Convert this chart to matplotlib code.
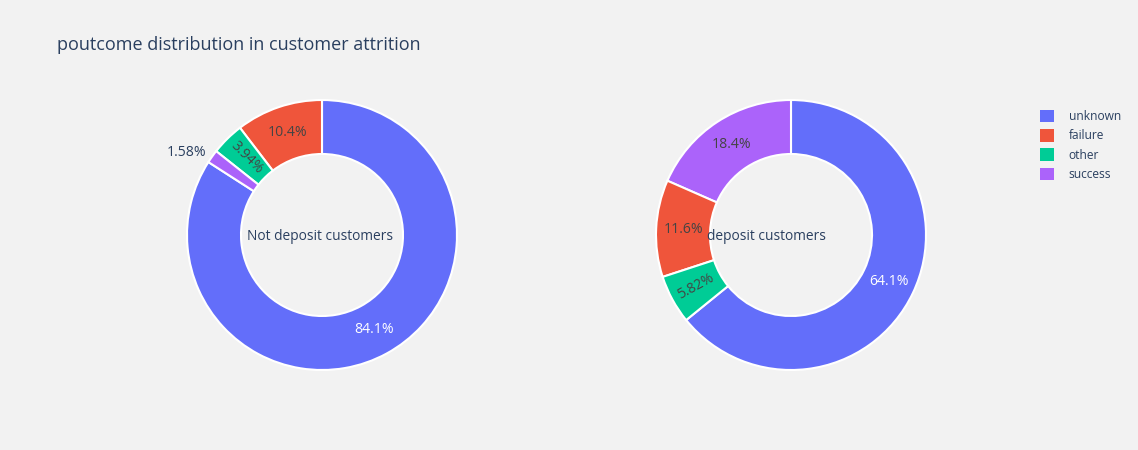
import matplotlib
matplotlib.use('Agg')
import matplotlib.pyplot as plt
from matplotlib.patches import Patch
import numpy as np

plt.rcParams['font.family'] = ['Open Sans', 'DejaVu Sans']

# data
categories = ['unknown', 'failure', 'other', 'success']
not_deposit_pct = [84.1, 10.4, 3.94, 1.58]
deposit_pct = [64.1, 11.6, 5.82, 18.4]
pie_labels = ['Not deposit customers', 'deposit customers']
chart_title = 'poutcome distribution in customer attrition'

colors = {'unknown': '#636efa', 'failure': '#EF553B',
          'other': '#00cc96', 'success': '#ab63fa'}
BG = '#f2f2f2'
TXT = '#2a3f5f'
DARK = '#444444'
W, H = 1138, 450
R = 135


def px(v):
    # plotly font px -> points at dpi 100
    return v * 72 / 100


fig = plt.figure(figsize=(W / 100, H / 100), dpi=100, facecolor=BG)
ax = fig.add_axes([0, 0, 1, 1])
ax.set_facecolor(BG)


def donut(values, cx, cy, label, label_x):
    # plotly style: sorted descending, first slice ends at 12 o'clock, ccw
    order = np.argsort(values)[::-1]
    vals = np.array(values)[order]
    names = [categories[i] for i in order]
    frac = vals / vals.sum()
    wedges, _ = ax.pie(vals, colors=[colors[n] for n in names],
                       center=(cx, H - cy), radius=R,
                       startangle=90 - 360 * frac[0], counterclock=True,
                       wedgeprops=dict(width=R * 0.4, edgecolor='white',
                                       linewidth=1.5))
    for w, v, f, n in zip(wedges, vals, frac, names):
        mid = (w.theta1 + w.theta2) / 2
        a = np.deg2rad(mid)
        txt = '{:.3g}%'.format(v)
        if f < 0.02:
            rr = R + 7
            ax.text(cx + rr * np.cos(a), H - cy + rr * np.sin(a), txt,
                    ha='right', va='center', fontsize=px(14), color=TXT)
            continue
        rr = R * 0.8
        rot = 0
        if f < 0.07:
            m = mid % 360
            rot = m - 180 if 90 < m < 270 else m
        col = 'white' if n == 'unknown' else DARK
        ax.text(cx + rr * np.cos(a), H - cy + rr * np.sin(a), txt,
                ha='center', va='center', rotation=rot,
                rotation_mode='anchor', fontsize=px(14), color=col)
    ax.text(label_x, H - cy - 2, label, ha='center', va='center',
            fontsize=px(13.7), color=TXT)


donut(not_deposit_pct, 322, 235, pie_labels[0], 320)
donut(deposit_pct, 791, 235, pie_labels[1], 766)

ax.set_xlim(0, W)
ax.set_ylim(0, H)
ax.axis('off')

fig.text(57 / W, 1 - 45 / H, chart_title, ha='left', va='center',
         fontsize=px(18), color=TXT)

handles = [Patch(facecolor=colors[c], edgecolor='none') for c in categories]
fig.legend(handles, categories, loc='upper left',
           bbox_to_anchor=(1040 / W, 1 - 110 / H), frameon=False,
           fontsize=px(12), labelcolor=TXT, handlelength=1.2,
           handleheight=1.2, handletextpad=1.2, labelspacing=0.5,
           borderpad=0, borderaxespad=0)

fig.savefig('out.png', dpi=100, facecolor=BG)
